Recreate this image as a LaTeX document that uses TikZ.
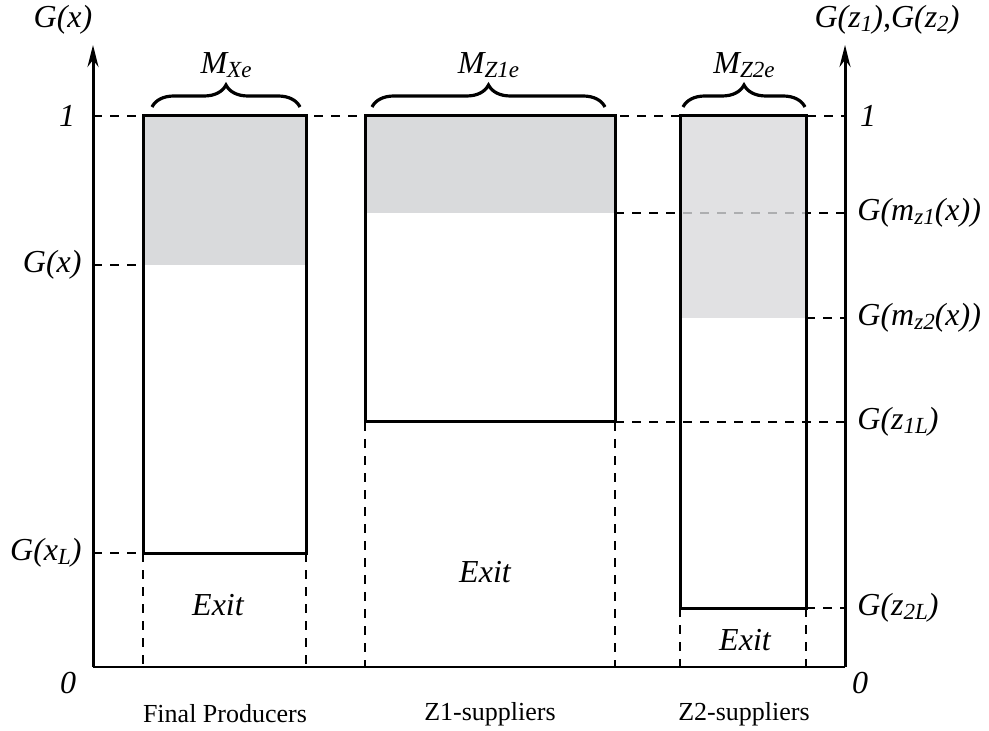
\documentclass[tikz,border=0pt]{standalone}
\usepackage{fontspec}
\setmainfont{Liberation Serif}
\usetikzlibrary{positioning}
\usetikzlibrary{arrows.meta}
\usetikzlibrary{decorations.pathreplacing}

\definecolor{boxgray}{RGB}{217,218,220}
\newcommand\lo[1]{\raisebox{-0.25ex}{\scalebox{0.72}{#1}}}

\begin{document}
\begin{tikzpicture}[x=0.5pt,y=-0.5pt,
	bar/.style={draw,line width=1.5pt,inner sep=0pt,outer sep=0pt,anchor=north west},
	guide/.style={line width=0.8pt,dash pattern=on 4.5pt off 4pt},
	axis/.style={line width=1.5pt,-{Stealth[length=11pt,width=5.5pt]}},
	lab/.style={font=\fontsize{16}{18}\selectfont\itshape,inner sep=1pt},
	sector/.style={font=\fontsize{13}{15}\selectfont,inner sep=1pt},
	brc/.style={decorate,decoration={brace,amplitude=11pt},line width=1.6pt}]
	
	\useasboundingbox (0,0) rectangle (989,731);
	
	\coordinate (o) at (93,667);
	\coordinate (oR) at (845,667);
	
	% shaded parts
	\fill[boxgray] (143,116) rectangle (306,265);
	\fill[boxgray] (365,116) rectangle (615,213);
	
	% guide lines
	\draw[guide] (93,116) -- (845,116);
	\draw[guide] (615,213) -- (845,213);
	\draw[guide] (615,422) -- (845,422);
	\fill[boxgray,fill opacity=0.8] (680,116) rectangle (806,318);
	
	% boxes
	\node[bar,minimum width=81.5pt,minimum height=218.5pt] (fp) at (143,116) {};
	\node[bar,minimum width=125pt,minimum height=153pt] (zone) at (365,116) {};
	\node[bar,minimum width=63pt,minimum height=246pt] (ztwo) at (680,116) {};
	
	% axes
	\draw[axis] (o) -- (93,45);
	\draw[axis] (oR) -- (845,45);
	\draw[line width=1.2pt] (o) -- (oR);
	
	\node[lab] (gx) at (63,20) {G(x)};
	\node[lab] (gz) at (887,20) {G(z\lo{1}),G(z\lo{2})};
	\node[lab] (oneL) at (67,116) {1};
	\node[lab] (oneR) at (868,116) {1};
	\node[lab] (zeroL) at (68,683) {0};
	\node[lab] (zeroR) at (860,683) {0};
	
	% left levels
	\node[lab,anchor=east] (gxm) at (84,265) {G(x)};
	\node[lab,anchor=east] (gxl) at (84,553) {G(x\lo{L})};
	\draw[guide] (o |- gxm) -- (fp.west |- gxm);
	\draw[guide] (o |- gxl) -- (fp.west |- gxl);
	
	% right levels
	\node[lab,anchor=west] (gm1) at (855,213) {G(m\lo{z1}(x))};
	\node[lab,anchor=west] (gm2) at (855,318) {G(m\lo{z2}(x))};
	\node[lab,anchor=west] (gz1) at (855,422) {G(z\lo{1L})};
	\node[lab,anchor=west] (gz2) at (855,608) {G(z\lo{2L})};
	\draw[guide] (ztwo.east |- gm2) -- (oR |- gm2);
	\draw[guide] (ztwo.east |- gz2) -- (oR |- gz2);
	
	% exit regions
	\draw[guide] (fp.south west) -- (fp.south west |- o);
	\draw[guide] (fp.south east) -- (fp.south east |- o);
	\draw[guide] (zone.south west) -- (zone.south west |- o);
	\draw[guide] (zone.south east) -- (zone.south east |- o);
	\draw[guide] (ztwo.south west) -- (ztwo.south west |- o);
	\draw[guide] (ztwo.south east) -- (ztwo.south east |- o);
	
	\node[lab] (exfp) at (218,605) {Exit};
	\node[lab] (exz1) at (485,572) {Exit};
	\node[lab] (exz2) at (745,640) {Exit};
	
	% braces
	\draw[brc] (152,107) -- (300,107) node[lab,midway,above=13pt] (mx) {M\lo{Xe}};
	\draw[brc] (372,107) -- (605,107) node[lab,midway,above=13pt] (mz1) {M\lo{Z1e}};
	\draw[brc] (683,107) -- (805,107) node[lab,midway,above=13pt] (mz2) {M\lo{Z2e}};
	
	\node[sector] (fpl) at (225,714) {Final Producers};
	\node[sector] (z1l) at (490,714) {Z1-suppliers};
	\node[sector] (z2l) at (744,714) {Z2-suppliers};
\end{tikzpicture}
\end{document}
